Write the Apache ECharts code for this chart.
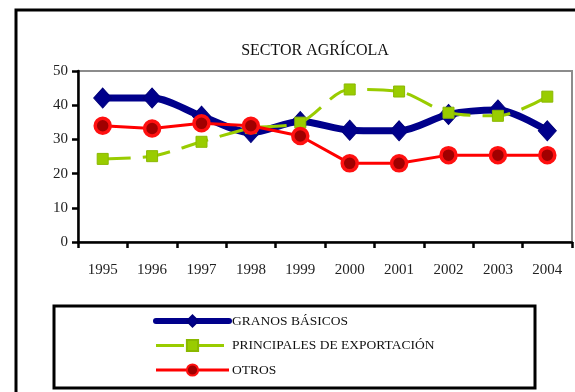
<!DOCTYPE html>
<html>
<head>
<meta charset="utf-8">
<script src="https://cdn.jsdelivr.net/npm/echarts@6/dist/echarts.min.js"></script>
<style>
  html, body { margin: 0; padding: 0; background: #fff; }
  #chart { width: 575px; height: 392px; }
</style>
</head>
<body>
<div id="chart"></div>
<script>
// Years on the horizontal axis
const years = ['1995', '1996', '1997', '1998', '1999', '2000', '2001', '2002', '2003', '2004'];

// Share by product group (%)
const granosBasicos = [42.1, 42.1, 36.8, 32.0, 35.2, 32.7, 32.5, 37.3, 38.6, 32.5];
const principalesExportacion = [24.3, 25.1, 29.3, 33.3, 34.9, 44.6, 44.0, 37.8, 36.9, 42.5];
const otros = [34.0, 33.2, 34.7, 34.0, 31.0, 23.0, 23.0, 25.4, 25.4, 25.4];

const seriesNames = ['GRANOS BÁSICOS', 'PRINCIPALES DE EXPORTACIÓN', 'OTROS'];

const serif = '"Liberation Serif", "DejaVu Serif", "Times New Roman", serif';

const chart = echarts.init(document.getElementById('chart'), null, { renderer: 'canvas' });

chart.setOption({
  animation: false,
  backgroundColor: '#ffffff',
  title: {
    text: 'SECTOR AGRÍCOLA',
    left: 310,
    textAlign: 'center',
    top: 38,
    textStyle: { fontFamily: serif, fontSize: 16, fontWeight: 'normal', color: '#111' }
  },
  grid: {
    left: 78, top: 71, right: 3, bottom: 150,
    show: true, borderColor: '#8c8c8c', borderWidth: 2, backgroundColor: 'transparent'
  },
  legend: {
    orient: 'vertical',
    left: 148,
    top: 309,
    itemWidth: 73,
    itemHeight: 14,
    itemGap: 10.5,
    textStyle: { fontFamily: serif, fontSize: 13.5, color: '#111', padding: [0, 0, 0, -2] },
    data: [
      { name: seriesNames[0], lineStyle: { width: 6, cap: 'round' } },
      { name: seriesNames[1], lineStyle: { width: 3 } },
      { name: seriesNames[2], lineStyle: { width: 3 } }
    ]
  },
  xAxis: {
    type: 'category',
    data: years,
    boundaryGap: true,
    axisLine: { lineStyle: { color: '#000', width: 2.5 } },
    axisTick: { show: true, inside: false, length: 6, alignWithLabel: false, lineStyle: { color: '#000', width: 2.5 } },
    axisLabel: { fontFamily: serif, fontSize: 15, color: '#222', margin: 21 },
    splitLine: { show: false }
  },
  yAxis: {
    type: 'value',
    min: 0,
    max: 50,
    interval: 10,
    axisLine: { show: true, lineStyle: { color: '#000', width: 2.5 } },
    axisTick: { show: true, length: 6, lineStyle: { color: '#000', width: 2.5 } },
    axisLabel: { fontFamily: serif, fontSize: 15, color: '#222', margin: 10 },
    splitLine: { show: false }
  },
  series: [
    {
      name: seriesNames[0],
      type: 'line',
      data: granosBasicos,
      smooth: 0.3,
      symbol: 'diamond',
      symbolSize: [18, 20],
      itemStyle: { color: '#00008b', borderColor: '#00007a', borderWidth: 1 },
      lineStyle: { color: '#00008b', width: 7 },
      z: 2
    },
    {
      name: seriesNames[1],
      type: 'line',
      data: principalesExportacion,
      smooth: 0.3,
      symbol: 'rect',
      symbolSize: 11,
      itemStyle: { color: '#99cc00', borderColor: '#8ab800', borderWidth: 1 },
      lineStyle: { color: '#99cc00', width: 3, type: [28, 12] },
      z: 3
    },
    {
      name: seriesNames[2],
      type: 'line',
      data: otros,
      smooth: false,
      symbol: 'circle',
      symbolSize: 15,
      itemStyle: { color: '#a00000', borderColor: '#ff1010', borderWidth: 3.5 },
      lineStyle: { color: '#ff0000', width: 3 },
      z: 4
    }
  ],
  graphic: [
    {
      type: 'rect',
      shape: { x: 16, y: 10, width: 600, height: 420 },
      style: { fill: 'transparent', stroke: '#000', lineWidth: 3 },
      silent: true,
      z: 100
    },
    {
      type: 'rect',
      shape: { x: 54, y: 306, width: 481, height: 82 },
      style: { fill: 'transparent', stroke: '#000', lineWidth: 3 },
      silent: true,
      z: 100
    }
  ]
});
</script>
</body>
</html>
